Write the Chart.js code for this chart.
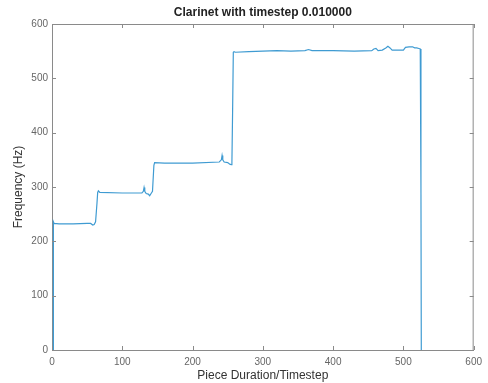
<!DOCTYPE html>
<html>
<head>
<meta charset="utf-8">
<script src="https://cdn.jsdelivr.net/npm/chart.js@4.4.0/dist/chart.umd.min.js"></script>
<style>
    html, body { margin: 0; padding: 0; background: #fff; }
    #wrap { width: 488px; height: 383px; }
</style>
</head>
<body>
<div id="wrap"><canvas id="clarinetChart"></canvas></div>
<script>
// data
const durations = [1.5, 2, 3, 10, 30, 50, 55, 58, 60, 62, 64, 65, 66, 68, 100, 128, 130, 131, 132, 134, 137, 139, 141, 143, 145, 146, 160, 200, 238, 241, 242, 243, 245, 250, 253, 255, 256, 257, 258, 259, 261, 280, 300, 320, 340, 360, 365, 370, 400, 430, 455, 458, 461, 464, 470, 475, 478, 481, 484, 500, 503, 508, 513, 516, 519, 522, 524, 525, 525.5];
const frequencies = [0, 236, 233, 232, 232, 233, 233, 230, 231, 236, 270, 290, 293, 290, 289, 289, 292, 299, 292, 288, 287, 284, 288, 292, 340, 345, 344, 344, 346, 350, 358, 350, 346, 345, 342, 341, 345, 440, 548, 549, 548, 549, 550, 551, 550, 551, 553, 551, 551, 550, 551, 554, 555, 551, 552, 556, 559, 556, 552, 552, 557, 558, 558, 556, 556, 555, 554, 300, 0];
const xTicks = [0, 100, 200, 300, 400, 500, 600];
const yTicks = [0, 100, 200, 300, 400, 500, 600];

const fontFamily = "'Liberation Sans', Arial, sans-serif";
const axisGrey = "#8a8a8a";

// matlab style box: inner ticks on all four sides + centred title
const boxPlugin = {
    id: "box",
    afterDraw(chart) {
        const ctx = chart.ctx;
        const a = chart.chartArea;
        const xs = chart.scales.x;
        const ys = chart.scales.y;
        const len = 4;
        ctx.save();
        ctx.strokeStyle = axisGrey;
        ctx.lineWidth = 1;
        ctx.beginPath();
        ctx.moveTo(a.left, a.top + 0.5);
        ctx.lineTo(a.right, a.top + 0.5);
        ctx.moveTo(a.right - 0.5, a.top);
        ctx.lineTo(a.right - 0.5, a.bottom);
        xTicks.forEach(v => {
            const px = Math.round(xs.getPixelForValue(v)) + 0.5;
            ctx.moveTo(px, a.bottom);
            ctx.lineTo(px, a.bottom - len);
            ctx.moveTo(px, a.top);
            ctx.lineTo(px, a.top + len);
        });
        yTicks.forEach(v => {
            const py = Math.round(ys.getPixelForValue(v)) + 0.5;
            ctx.moveTo(a.left, py);
            ctx.lineTo(a.left + len, py);
            ctx.moveTo(a.right, py);
            ctx.lineTo(a.right - len, py);
        });
        ctx.stroke();

        ctx.fillStyle = "#222";
        ctx.font = "bold 12px " + fontFamily;
        ctx.textAlign = "center";
        ctx.textBaseline = "middle";
        ctx.fillText("Clarinet with timestep 0.010000", (a.left + a.right) / 2, 13);
        ctx.restore();
    }
};

new Chart("clarinetChart", {
    type: "line",
    data: {
        datasets: [{
            data: durations.map((d, i) => ({ x: d, y: frequencies[i] })),
            borderColor: "#3f9bd2",
            borderWidth: 1.2,
            pointRadius: 0,
            tension: 0,
            fill: false
        }]
    },
    options: {
        responsive: true,
        maintainAspectRatio: false,
        animation: false,
        layout: { padding: { top: 24, right: 13, left: 0, bottom: 0 } },
        plugins: {
            legend: { display: false },
            tooltip: { enabled: false }
        },
        scales: {
            x: {
                type: "linear",
                min: 0,
                max: 600,
                afterFit(scale) { scale.height = 33; },
                afterBuildTicks(scale) { scale.ticks = xTicks.map(v => ({ value: v })); },
                grid: { display: false, drawTicks: false },
                border: { color: axisGrey, width: 1 },
                ticks: {
                    padding: 6,
                    color: "#666",
                    font: { family: fontFamily, size: 10 },
                    maxRotation: 0
                },
                title: {
                    display: true,
                    text: "Piece Duration/Timestep",
                    color: "#333",
                    font: { family: fontFamily, size: 12 },
                    padding: { top: 0, bottom: 0 }
                }
            },
            y: {
                min: 0,
                max: 600,
                afterFit(scale) { scale.width = 52; },
                afterBuildTicks(scale) { scale.ticks = yTicks.map(v => ({ value: v })); },
                grid: { display: false, drawTicks: false },
                border: { color: axisGrey, width: 1 },
                ticks: {
                    padding: 4,
                    color: "#666",
                    font: { family: fontFamily, size: 10 }
                },
                title: {
                    display: true,
                    text: "Frequency (Hz)",
                    color: "#333",
                    font: { family: fontFamily, size: 12 },
                    padding: { top: 11, bottom: 0 }
                }
            }
        }
    },
    plugins: [boxPlugin]
});
</script>
</body>
</html>
